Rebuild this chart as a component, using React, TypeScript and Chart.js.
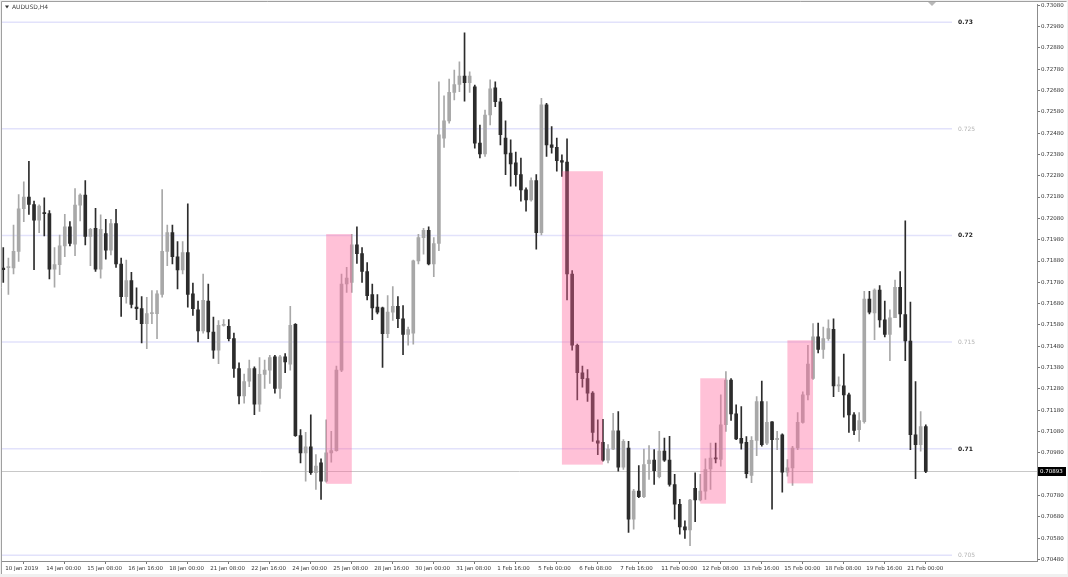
import React, { useEffect, useRef } from 'react';
import { Chart, registerables } from 'chart.js';

Chart.register(...registerables);

const symbolTitle = 'AUDUSD,H4';

const opens = [
  0.71847, 0.71849, 0.71847, 0.71925, 0.72125, 0.72180, 0.72145, 0.72071, 0.72107, 0.72102,
  0.71842, 0.71863, 0.71951, 0.72040, 0.71959, 0.72142, 0.72189, 0.71995, 0.72033, 0.71842,
  0.72009, 0.71931, 0.72055, 0.71866, 0.71713, 0.71788, 0.71664, 0.71657, 0.71586, 0.71633,
  0.71633, 0.71723, 0.71925, 0.72013, 0.71900, 0.71838, 0.71920, 0.71726, 0.71651, 0.71552,
  0.71692, 0.71547, 0.71462, 0.71578, 0.71574, 0.71516, 0.71376, 0.71247, 0.71317, 0.71376,
  0.71208, 0.71348, 0.71368, 0.71430, 0.71283, 0.71430, 0.71396, 0.71583, 0.71061, 0.70980,
  0.71008, 0.70887, 0.70933, 0.70848, 0.70980, 0.70991, 0.71368, 0.71772, 0.71780, 0.71956,
  0.71915, 0.71831, 0.71723, 0.71664, 0.71660, 0.71539, 0.71640, 0.71667, 0.71609, 0.71536,
  0.71542, 0.71881, 0.71990, 0.72024, 0.71866, 0.71962, 0.72456, 0.72537, 0.72671, 0.72708,
  0.72747, 0.72717, 0.72697, 0.72433, 0.72382, 0.72565, 0.72692, 0.72627, 0.72456, 0.72386,
  0.72340, 0.72285, 0.72214, 0.72166, 0.72257, 0.72013, 0.72612, 0.72425, 0.72413, 0.72351,
  0.72344, 0.71819, 0.71485, 0.71356, 0.71328, 0.71260, 0.71037, 0.71030, 0.70946, 0.70998,
  0.71084, 0.70913, 0.71003, 0.70669, 0.70801, 0.70775, 0.70930, 0.70946, 0.70868, 0.70988,
  0.70946, 0.70832, 0.70739, 0.70633, 0.70619, 0.70814, 0.70759, 0.70801, 0.70905, 0.70956,
  0.70949, 0.71112, 0.71322, 0.71163, 0.71048, 0.71030, 0.70874, 0.71039, 0.71221, 0.71026,
  0.71126, 0.71042, 0.71065, 0.70890, 0.70910, 0.71003, 0.71123, 0.71252, 0.71329, 0.71524,
  0.71465, 0.71516, 0.71559, 0.71294, 0.71294, 0.71252, 0.71158, 0.71089, 0.71127, 0.71702,
  0.71636, 0.71744, 0.71604, 0.71536, 0.71614, 0.71757, 0.71629, 0.71505, 0.71065, 0.71019,
  0.71104,
];

const highs = [
  0.71943, 0.71894, 0.72049, 0.72192, 0.72251, 0.72347, 0.72161, 0.72143, 0.72176, 0.72117,
  0.71943, 0.72002, 0.72099, 0.72065, 0.72220, 0.72195, 0.72257, 0.72033, 0.72127, 0.72096,
  0.72075, 0.72075, 0.72122, 0.71894, 0.71884, 0.71827, 0.71754, 0.71713, 0.71710, 0.71741,
  0.71741, 0.72215, 0.72049, 0.72049, 0.71971, 0.71971, 0.72148, 0.71776, 0.71692, 0.71819,
  0.71772, 0.71617, 0.71601, 0.71605, 0.71605, 0.71542, 0.71403, 0.71350, 0.71415, 0.71384,
  0.71427, 0.71415, 0.71438, 0.71438, 0.71438, 0.71446, 0.71667, 0.71586, 0.71089, 0.71076,
  0.71159, 0.70972, 0.70952, 0.71135, 0.71081, 0.71387, 0.71819, 0.71850, 0.72005, 0.72040,
  0.71943, 0.71873, 0.71772, 0.71723, 0.71664, 0.71718, 0.71760, 0.71713, 0.71671, 0.71570,
  0.71884, 0.72005, 0.72033, 0.72040, 0.71990, 0.72720, 0.72655, 0.72733, 0.72775, 0.72814,
  0.72950, 0.72767, 0.72705, 0.72518, 0.72588, 0.72730, 0.72720, 0.72643, 0.72537, 0.72448,
  0.72391, 0.72363, 0.72223, 0.72270, 0.72285, 0.72643, 0.72619, 0.72511, 0.72456, 0.72378,
  0.72453, 0.71835, 0.71490, 0.71387, 0.71371, 0.71268, 0.71135, 0.71138, 0.71019, 0.71166,
  0.71174, 0.71042, 0.71034, 0.70809, 0.70921, 0.70998, 0.71014, 0.70995, 0.71081, 0.71050,
  0.71058, 0.70879, 0.70762, 0.70661, 0.70762, 0.70887, 0.70879, 0.70952, 0.71026, 0.71026,
  0.71252, 0.71361, 0.71329, 0.71205, 0.71197, 0.71057, 0.71057, 0.71244, 0.71317, 0.71221,
  0.71127, 0.71081, 0.71070, 0.70949, 0.71011, 0.71169, 0.71267, 0.71485, 0.71586, 0.71589,
  0.71570, 0.71604, 0.71609, 0.71337, 0.71443, 0.71260, 0.71169, 0.71169, 0.71738, 0.71738,
  0.71749, 0.71765, 0.71692, 0.71651, 0.71791, 0.71830, 0.72068, 0.71687, 0.71314, 0.71174,
  0.71112,
];

const lows = [
  0.71780, 0.71723, 0.71819, 0.71878, 0.72065, 0.72099, 0.71839, 0.72013, 0.71998, 0.71796,
  0.71757, 0.71816, 0.71900, 0.71951, 0.71905, 0.72068, 0.71956, 0.71858, 0.71831, 0.71800,
  0.71889, 0.71909, 0.71850, 0.71620, 0.71682, 0.71660, 0.71605, 0.71496, 0.71469, 0.71586,
  0.71516, 0.71710, 0.71858, 0.71866, 0.71749, 0.71819, 0.71664, 0.71625, 0.71500, 0.71542,
  0.71516, 0.71423, 0.71399, 0.71574, 0.71505, 0.71334, 0.71210, 0.71213, 0.71291, 0.71159,
  0.71174, 0.71283, 0.71306, 0.71260, 0.71236, 0.71356, 0.71368, 0.71057, 0.70933, 0.70848,
  0.70879, 0.70809, 0.70762, 0.70843, 0.70936, 0.70988, 0.71361, 0.71733, 0.71733, 0.71869,
  0.71780, 0.71698, 0.71605, 0.71632, 0.71381, 0.71521, 0.71601, 0.71567, 0.71441, 0.71485,
  0.71490, 0.71866, 0.71912, 0.71862, 0.71807, 0.71928, 0.72413, 0.72526, 0.72635, 0.72674,
  0.72630, 0.72671, 0.72409, 0.72363, 0.72371, 0.72518, 0.72604, 0.72425, 0.72285, 0.72231,
  0.72231, 0.72161, 0.72114, 0.72161, 0.71936, 0.72002, 0.72371, 0.72386, 0.72301, 0.72277,
  0.71698, 0.71462, 0.71228, 0.71288, 0.71221, 0.71034, 0.70972, 0.70941, 0.70933, 0.70995,
  0.70894, 0.70902, 0.70607, 0.70622, 0.70770, 0.70770, 0.70856, 0.70832, 0.70863, 0.70940,
  0.70824, 0.70669, 0.70599, 0.70579, 0.70545, 0.70657, 0.70755, 0.70762, 0.70809, 0.70933,
  0.70918, 0.71081, 0.71132, 0.71042, 0.70998, 0.70863, 0.70840, 0.70967, 0.71011, 0.71019,
  0.70716, 0.70995, 0.70796, 0.70871, 0.70827, 0.70995, 0.71120, 0.71228, 0.71325, 0.71449,
  0.71423, 0.71508, 0.71244, 0.71267, 0.71148, 0.71076, 0.71065, 0.71034, 0.71120, 0.71632,
  0.71511, 0.71570, 0.71524, 0.71412, 0.71614, 0.71570, 0.71412, 0.70995, 0.70859, 0.70988,
  0.70887,
];

const closes = [
  0.71839, 0.71852, 0.71925, 0.72125, 0.72180, 0.72145, 0.72071, 0.72138, 0.72102, 0.71842,
  0.71863, 0.71951, 0.72040, 0.71962, 0.72142, 0.72189, 0.71995, 0.72029, 0.71842, 0.72029,
  0.71931, 0.72055, 0.71866, 0.71713, 0.71788, 0.71676, 0.71657, 0.71586, 0.71633, 0.71636,
  0.71726, 0.71925, 0.72013, 0.71900, 0.71838, 0.71920, 0.71723, 0.71656, 0.71552, 0.71695,
  0.71547, 0.71462, 0.71578, 0.71583, 0.71516, 0.71376, 0.71247, 0.71314, 0.71376, 0.71208,
  0.71348, 0.71368, 0.71427, 0.71283, 0.71430, 0.71407, 0.71578, 0.71061, 0.70980, 0.71008,
  0.70887, 0.70918, 0.70848, 0.70980, 0.70991, 0.71368, 0.71772, 0.71800, 0.71956, 0.71915,
  0.71831, 0.71718, 0.71660, 0.71640, 0.71539, 0.71640, 0.71667, 0.71609, 0.71536, 0.71558,
  0.71881, 0.71990, 0.72024, 0.71866, 0.71962, 0.72472, 0.72537, 0.72671, 0.72708, 0.72747,
  0.72717, 0.72747, 0.72433, 0.72382, 0.72565, 0.72688, 0.72627, 0.72472, 0.72382, 0.72335,
  0.72285, 0.72214, 0.72166, 0.72257, 0.72013, 0.72612, 0.72425, 0.72413, 0.72351, 0.72344,
  0.71819, 0.71485, 0.71356, 0.71328, 0.71260, 0.71076, 0.71026, 0.70946, 0.70998, 0.71084,
  0.70913, 0.71034, 0.70669, 0.70801, 0.70775, 0.70925, 0.70946, 0.70897, 0.70988, 0.70946,
  0.70832, 0.70739, 0.70633, 0.70619, 0.70759, 0.70759, 0.70801, 0.70902, 0.70956, 0.70952,
  0.71112, 0.71322, 0.71163, 0.71045, 0.71026, 0.70883, 0.71039, 0.71221, 0.71019, 0.71123,
  0.71042, 0.71048, 0.70890, 0.70910, 0.71003, 0.71123, 0.71252, 0.71396, 0.71524, 0.71465,
  0.71516, 0.71563, 0.71294, 0.71298, 0.71252, 0.71158, 0.71085, 0.71132, 0.71702, 0.71640,
  0.71744, 0.71604, 0.71536, 0.71614, 0.71757, 0.71632, 0.71505, 0.71065, 0.71019, 0.71104,
  0.70893,
];

const xTickBars = [0, 8, 16, 24, 32, 40, 48, 56, 64, 72, 80, 88, 96, 104, 112, 120, 128, 136, 144, 152, 160, 168, 176];
const xTickLabels = [
  '10 Jan 2019', '14 Jan 00:00', '15 Jan 08:00', '16 Jan 16:00', '18 Jan 00:00', '21 Jan 08:00',
  '22 Jan 16:00', '24 Jan 00:00', '25 Jan 08:00', '28 Jan 16:00', '30 Jan 00:00', '31 Jan 08:00',
  '1 Feb 16:00', '5 Feb 00:00', '6 Feb 08:00', '7 Feb 16:00', '11 Feb 00:00', '12 Feb 08:00',
  '13 Feb 16:00', '15 Feb 00:00', '18 Feb 08:00', '19 Feb 16:00', '21 Feb 00:00',
];

const yTickValues = [
  0.7048, 0.7058, 0.7068, 0.7078, 0.7088, 0.7098, 0.7108, 0.7118, 0.7128, 0.7138,
  0.7148, 0.7158, 0.7168, 0.7178, 0.7188, 0.7198, 0.7208, 0.7218, 0.7228, 0.7238,
  0.7248, 0.7258, 0.7268, 0.7278, 0.7288, 0.7298, 0.7308,
];

const levelPrices = [0.73, 0.725, 0.72, 0.715, 0.71, 0.705];
const levelLabels = ['0.73', '0.725', '0.72', '0.715', '0.71', '0.705'];
const levelStrong = [true, false, true, false, true, false];

const boxStartBars = [63, 109, 136, 153];
const boxEndBars = [68, 117, 141, 158];
const boxHighs = [0.72006, 0.72301, 0.7133, 0.71508];
const boxLows = [0.70835, 0.70925, 0.70742, 0.70837];

const currentPrice = 0.70893;

const BULL = '#a8a8a8';
const BEAR = '#2c2c2c';
const FONT = "'DejaVu Sans', sans-serif";

export default function App() {
  const canvasRef = useRef<HTMLCanvasElement | null>(null);

  useEffect(() => {
    document.body.style.margin = '0';
    document.body.style.overflow = 'hidden';
    const canvas = canvasRef.current;
    if (!canvas) return;

    const colors = opens.map((o, i) => (closes[i] >= o ? BULL : BEAR));
    const wickData = opens.map((_, i) => ({ x: i, y: [lows[i], highs[i]] }));
    const bodyData = opens.map((o, i) => ({ x: i, y: [Math.min(o, closes[i]), Math.max(o, closes[i])] }));

    const mt4Plugin = {
      id: 'mt4',
      beforeDraw(chart: any) {
        const { ctx, width, height } = chart;
        ctx.save();
        ctx.fillStyle = '#f0f0f0';
        ctx.fillRect(0, 0, width, height);
        ctx.fillStyle = '#ffffff';
        ctx.fillRect(2, 2, 1065, 572);
        ctx.strokeStyle = '#a0a0a0';
        ctx.lineWidth = 1;
        ctx.beginPath();
        ctx.moveTo(1.5, 1.5);
        ctx.lineTo(1066.5, 1.5);
        ctx.moveTo(1.5, 1.5);
        ctx.lineTo(1.5, 574);
        ctx.stroke();
        ctx.restore();
      },
      beforeDatasetsDraw(chart: any) {
        const { ctx, chartArea, scales } = chart;
        const y = scales.y;
        ctx.save();
        ctx.strokeStyle = '#e2e2fb';
        ctx.lineWidth = 1.5;
        levelPrices.forEach((p) => {
          const py = y.getPixelForValue(p);
          ctx.beginPath();
          ctx.moveTo(chartArea.left, py);
          ctx.lineTo(chartArea.right - 85, py);
          ctx.stroke();
        });
        const cy = Math.round(y.getPixelForValue(currentPrice)) + 0.5;
        ctx.strokeStyle = '#c8c8c8';
        ctx.lineWidth = 1;
        ctx.beginPath();
        ctx.moveTo(chartArea.left, cy);
        ctx.lineTo(chartArea.right, cy);
        ctx.stroke();
        ctx.restore();
      },
      afterDatasetsDraw(chart: any) {
        const { ctx, scales } = chart;
        const x = scales.x;
        const y = scales.y;
        ctx.save();
        ctx.fillStyle = 'rgba(255, 100, 155, 0.40)';
        boxStartBars.forEach((s, i) => {
          const x1 = x.getPixelForValue(s);
          const x2 = x.getPixelForValue(boxEndBars[i]);
          const y1 = y.getPixelForValue(boxHighs[i]);
          const y2 = y.getPixelForValue(boxLows[i]);
          ctx.fillRect(x1, y1, x2 - x1, y2 - y1);
        });
        ctx.restore();
      },
      afterDraw(chart: any) {
        const { ctx, chartArea, scales } = chart;
        const y = scales.y;
        ctx.save();
        // level labels
        ctx.textBaseline = 'middle';
        ctx.textAlign = 'left';
        levelPrices.forEach((p, i) => {
          const py = y.getPixelForValue(p);
          ctx.font = (levelStrong[i] ? 'bold ' : '') + '6px ' + FONT;
          ctx.fillStyle = levelStrong[i] ? '#222222' : '#b4b4b4';
          ctx.fillText(levelLabels[i], chartArea.right - 79, py + 0.5);
        });
        // title
        ctx.fillStyle = '#333333';
        ctx.beginPath();
        ctx.moveTo(5, 5.5);
        ctx.lineTo(9, 5.5);
        ctx.lineTo(7, 8.5);
        ctx.closePath();
        ctx.fill();
        ctx.font = '6px ' + FONT;
        ctx.fillStyle = '#444444';
        ctx.fillText(symbolTitle, 12, 7.5);
        // chart shift marker
        ctx.fillStyle = '#b8b8b8';
        ctx.beginPath();
        ctx.moveTo(928, 2);
        ctx.lineTo(936, 2);
        ctx.lineTo(932, 6);
        ctx.closePath();
        ctx.fill();
        // current price tag
        const cy = Math.round(y.getPixelForValue(currentPrice));
        ctx.fillStyle = '#000000';
        ctx.fillRect(chartArea.right + 1, cy - 4, 28, 9);
        ctx.fillStyle = '#ffffff';
        ctx.font = '5.5px ' + FONT;
        ctx.fillText(currentPrice.toFixed(5), chartArea.right + 3, cy + 0.5);
        ctx.restore();
      },
    };

    const chart = new Chart(canvas, {
      type: 'bar',
      data: {
        datasets: [
          {
            data: wickData as any,
            backgroundColor: colors,
            borderWidth: 0,
            barThickness: 1,
            grouped: false,
            minBarLength: 1,
          } as any,
          {
            data: bodyData as any,
            backgroundColor: colors,
            borderWidth: 0,
            barThickness: 3,
            grouped: false,
            minBarLength: 1,
          } as any,
        ],
      },
      options: {
        animation: false,
        responsive: false,
        maintainAspectRatio: false,
        layout: { padding: { left: 2, top: 2, right: 0, bottom: 0 } },
        plugins: {
          legend: { display: false },
          tooltip: { enabled: false },
          title: { display: false },
        },
        scales: {
          x: {
            type: 'linear',
            position: 'bottom',
            min: -0.25,
            max: 201.7,
            offset: false,
            grid: {
              display: true,
              drawOnChartArea: false,
              drawTicks: true,
              tickLength: 3,
              color: '#777777',
            },
            border: { display: true, color: '#8c8c8c' },
            ticks: {
              autoSkip: false,
              maxRotation: 0,
              minRotation: 0,
              align: 'start',
              padding: 1,
              labelOffset: 2,
              color: '#333333',
              font: { family: FONT, size: 5.5 },
              callback: (v: any) => {
                const k = xTickBars.indexOf(Number(v));
                return k >= 0 ? xTickLabels[k] : '';
              },
            },
            afterBuildTicks: (scale: any) => {
              scale.ticks = xTickBars.map((v) => ({ value: v }));
            },
            afterFit: (scale: any) => {
              scale.height = 16;
            },
          } as any,
          y: {
            type: 'linear',
            position: 'right',
            min: 0.70473,
            max: 0.73084,
            grid: {
              display: true,
              drawOnChartArea: false,
              drawTicks: true,
              tickLength: 3,
              color: '#777777',
            },
            border: { display: true, color: '#8c8c8c' },
            ticks: {
              autoSkip: false,
              padding: 1,
              color: '#333333',
              font: { family: FONT, size: 5.5 },
              callback: (v: any) => Number(v).toFixed(5),
            },
            afterBuildTicks: (scale: any) => {
              scale.ticks = yTickValues.map((v) => ({ value: v }));
            },
            afterFit: (scale: any) => {
              scale.width = 31;
            },
          } as any,
        },
      },
      plugins: [mt4Plugin],
    });

    return () => {
      chart.destroy();
    };
  }, []);

  return (
    <div style={{ width: 1068, height: 577, overflow: 'hidden' }}>
      <canvas ref={canvasRef} width={1068} height={577} style={{ display: 'block' }} />
    </div>
  );
}
